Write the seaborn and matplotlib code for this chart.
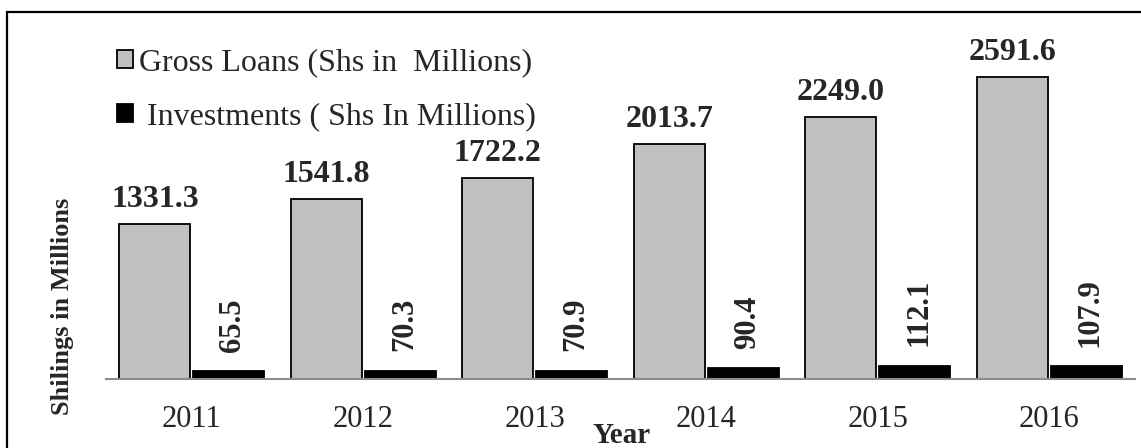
import matplotlib
matplotlib.use("Agg")
import matplotlib.pyplot as plt
import seaborn as sns
import pandas as pd
from matplotlib.patches import Rectangle

years = ["2011", "2012", "2013", "2014", "2015", "2016"]
gross_loans = [1331.3, 1541.8, 1722.2, 2013.7, 2249.0, 2591.6]
investments = [65.5, 70.3, 70.9, 90.4, 112.1, 107.9]
series_names = ["Gross Loans (Shs in  Millions)", " Investments ( Shs In Millions)"]

df = pd.DataFrame({
    "Year": years * 2,
    "Value": gross_loans + investments,
    "Series": [series_names[0]] * len(years) + [series_names[1]] * len(years),
})

sns.set_theme(style="white")
plt.rcParams["font.family"] = ["Liberation Serif", "DejaVu Serif"]

fig = plt.figure(figsize=(11.41, 4.48), dpi=100)
ax = fig.add_axes([106 / 1141, 69 / 448, (1135 - 106) / 1141, 350 / 448])

sns.barplot(data=df, x="Year", y="Value", hue="Series", ax=ax,
            palette={series_names[0]: "#c0c0c0", series_names[1]: "#000000"},
            edgecolor="black", linewidth=1.3, width=0.86, gap=0.04,
            saturation=1, errorbar=None)

ax.set_xlim(-0.5, 5.5)
ax.set_ylim(0, 3000)
ax.set_yticks([])
ax.set_ylabel("")
ax.set_xlabel("")
for s in ["left", "right", "top"]:
    ax.spines[s].set_visible(False)
ax.spines["bottom"].set_color("#8c8c8c")
ax.spines["bottom"].set_linewidth(1.5)
ax.tick_params(axis="x", length=0, pad=19, labelsize=22)

# value labels
cont_g, cont_i = ax.containers[0], ax.containers[1]
for bar, v in zip(cont_g, gross_loans):
    ax.annotate(f"{v:.1f}", (bar.get_x() + bar.get_width() / 2, bar.get_height()),
                xytext=(0, 12), textcoords="offset points", ha="center",
                va="baseline", fontsize=23, fontweight="bold")
for bar, v in zip(cont_i, investments):
    ax.annotate(f"{v:.1f}", (bar.get_x() + bar.get_width() / 2, bar.get_height()),
                xytext=(3, 14), textcoords="offset points", ha="center",
                va="bottom", rotation=90, fontsize=22, fontweight="bold")

# axis titles
fig.text(622 / 1141, 1 - 435 / 448, "Year", ha="center", va="center",
         fontsize=21, fontweight="bold")
fig.text(62 / 1141, 1 - 306 / 448, "Shilings in Millions", ha="center", va="center",
         rotation=90, fontsize=19, fontweight="bold")

# legend
handles, labels = ax.get_legend_handles_labels()
ax.legend(handles, labels, loc="upper left",
          bbox_to_anchor=(117 / 1141, 1 - 48 / 448), bbox_transform=fig.transFigure,
          frameon=False, fontsize=23, handlelength=0.5, handleheight=0.5,
          handletextpad=0.2, labelspacing=0.8, borderpad=0, borderaxespad=0)

# figure frame
fig.add_artist(Rectangle((7 / 1141, -0.1), 1.5, 1.1 - 12 / 448,
                         transform=fig.transFigure, fill=False,
                         edgecolor="black", linewidth=1.6))

fig.savefig("out.png", dpi=100)
